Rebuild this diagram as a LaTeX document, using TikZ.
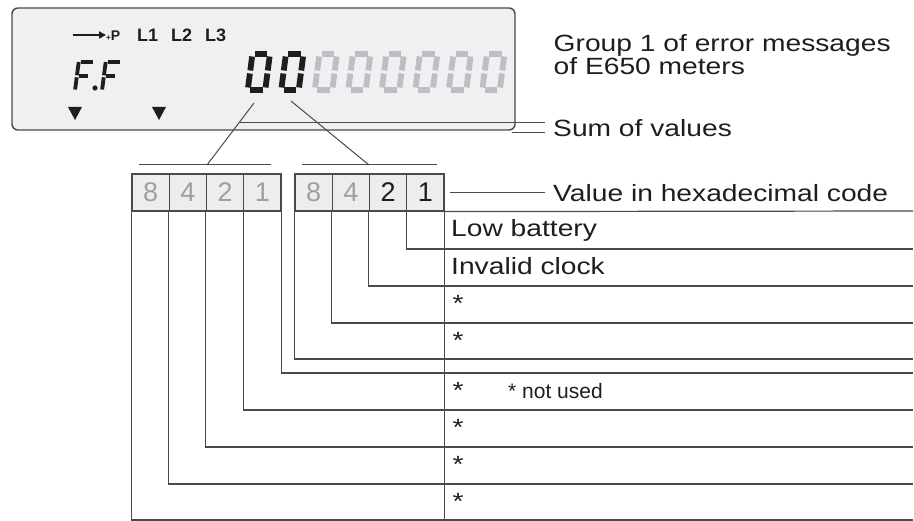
\documentclass[tikz,border=0pt]{standalone}
\usepackage{fontspec}
\setmainfont{Liberation Sans}
\newfontfamily\widefont[FakeStretch=1.2]{Liberation Sans}
\usetikzlibrary{arrows.meta}

\definecolor{lcdbg}{HTML}{EFF0F2}
\definecolor{cellbg}{HTML}{EDEDEE}
\definecolor{rule}{HTML}{4A4A4A}
\definecolor{ink}{HTML}{1E1E1E}
\definecolor{segoff}{HTML}{BDBFC2}
\definecolor{digoff}{HTML}{9C9FA3}

\tikzset{
  seg/.style={line width=5.8pt},
  thinseg/.style={line width=3.8pt},
  frame/.style={draw=rule, line width=1.2pt},
  guide/.style={draw=rule, line width=1pt},
  cell/.style={draw=rule, line width=1.2pt, fill=cellbg, minimum width=37.25pt,
    minimum height=37pt, inner sep=0pt, font=\fontsize{27}{27}\selectfont},
  msg/.style={inner sep=0pt, text=ink, font=\widefont\fontsize{23.5}{23}\selectfont}
}

% one LCD zero, #1 = left x, #2 = colour
\newcommand{\lcdzero}[2]{%
  \begin{scope}[shift={({#1},90)}, xslant=0.13]
    \draw[seg,#2] (2.5,-36) -- (15,-36);
    \draw[seg,#2] (17.5,-33.5) -- (17.5,-19.5);
    \draw[seg,#2] (17.5,-16.5) -- (17.5,-2.5);
    \draw[seg,#2] (15,0) -- (2.5,0);
    \draw[seg,#2] (0,-2.5) -- (0,-16.5);
    \draw[seg,#2] (0,-19.5) -- (0,-33.5);
  \end{scope}}

% one LCD F, #1 = left x
\newcommand{\lcdF}[1]{%
  \begin{scope}[shift={({#1},90.5)}, xslant=0.13]
    \draw[thinseg,ink] (0,-1) -- (0,-13.2);
    \draw[thinseg,ink] (0,-15.2) -- (0,-28.5);
    \draw[thinseg,ink] (1.9,-28.5) -- (14,-28.5);
    \draw[thinseg,ink] (1.9,-14.2) -- (11.5,-14.2);
  \end{scope}}

\begin{document}
\begin{tikzpicture}[x=1pt, y=-1pt]
  \useasboundingbox (0,0) rectangle (914,521);

  \draw[draw=rule, line width=1.4pt, fill=lcdbg, rounded corners=6pt] (12,8) rectangle (515,130);

  \draw[ink, line width=1.8pt, -{Triangle[length=7pt, width=7pt]}] (73,35) -- (106,35);
  \node[inner sep=0pt, text=ink, anchor=west] (pplus) at (106,36)
    {\bfseries\fontsize{8}{8}\selectfont +\fontsize{14}{14}\selectfont P};
  \node[inner sep=0pt, text=ink, anchor=west] (phases) at (137,35)
    {\bfseries\fontsize{18}{18}\selectfont L1\hspace{13pt}L2\hspace{13pt}L3};

  \lcdF{75}
  \lcdF{102}
  \fill[ink] (95,88) circle (2.6);

  \fill[ink] (68,107) -- (82,107) -- (75,120) -- cycle;
  \fill[ink] (152,107) -- (166,107) -- (159,120) -- cycle;

  \foreach \k in {0,1} \lcdzero{247.75+33.5*\k}{ink};
  \foreach \k in {2,...,7} \lcdzero{247.75+33.5*\k}{segoff};

  \node[msg, anchor=north west, align=left] (title) at (553.5,34.5)
    {Group 1 of error messages\\of E650 meters};
  \node[msg, anchor=base west] (sum) at (553,137) {Sum of values};
  \coordinate (sumA) at (240,123);
  \coordinate (sumB) at (512,133);
  \draw[guide] (sumA) -- ([xshift=-8pt]sum.west |- sumA);
  \draw[guide] (sumB) -- ([xshift=-8pt]sum.west |- sumB);

  \foreach \v [count=\i] in {8,4,2,1}
    \node[cell, text=digoff] (l\v) at ({150.6+37.25*(\i-1)},192.5) {\v};
  \foreach \v/\c [count=\i] in {8/digoff,4/digoff,2/ink,1/ink}
    \node[cell, text=\c] (r\v) at ({313.6+37.25*(\i-1)},192.5) {\v};

  \coordinate (hiDigit) at (254,103);
  \coordinate (loDigit) at (291,101);
  \coordinate (hiTip) at (207,165);
  \coordinate (loTip) at (369,165);
  \draw[guide] (139,165) -- (271,165);
  \draw[guide] (302,165) -- (437,165);
  \draw[guide] (hiDigit) -- (hiTip);
  \draw[guide] (loDigit) -- (loTip);

  \node[msg, anchor=base west] (hex) at (553,202) {Value in hexadecimal code};
  \draw[guide] ([xshift=5pt]r1.east) -- ([xshift=-8pt]hex.west |- r1.east);

  \draw[frame] (r1.north east) -- (r1.north east |- 0,520);
  \draw[frame] (r1.south east) -- (913,211);
  \foreach \a/\y in {r1.south west/249, r2.south west/286, r4.south west/323,
      r8.south west/359, l1.south east/373, l1.south west/410,
      l2.south west/447, l4.south west/484, l8.south west/520}
    \draw[frame] (\a) |- (913,\y);

  \node[msg, anchor=base west] (lowbat) at (451,237) {Low battery};
  \node[msg, anchor=base west] (badclock) at (451,275) {Invalid clock};
  \foreach \y [count=\i] in {312,349,399,436,473,510}
    \node[msg, anchor=base] (unused\i) at (458,\y) {*};
  \node[inner sep=0pt, text=ink, anchor=base west, font=\fontsize{21}{21}\selectfont]
    (note) at (508,399) {* not used};

\end{tikzpicture}
\end{document}
